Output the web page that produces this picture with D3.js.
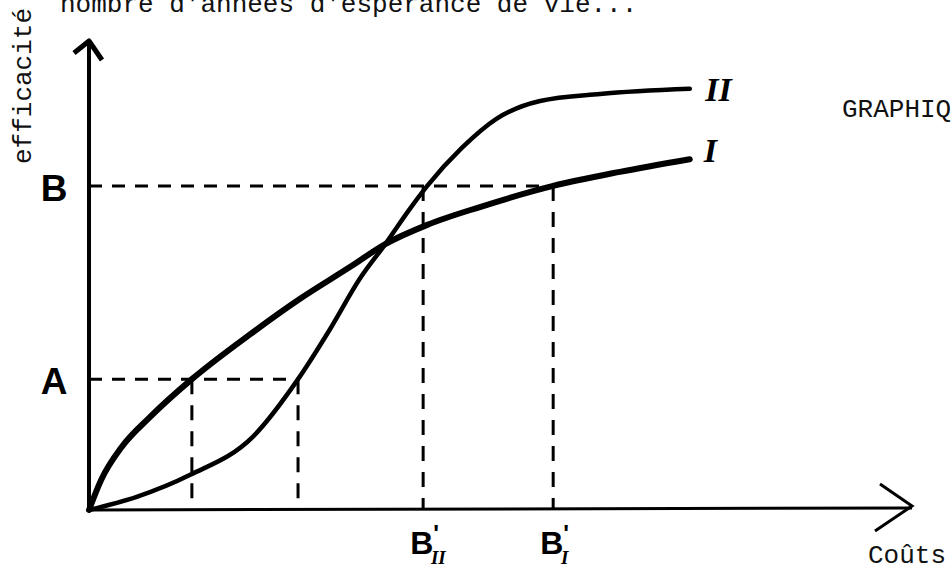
<!DOCTYPE html>
<html>
<head>
<meta charset="utf-8">
<script src="https://cdn.jsdelivr.net/npm/d3@7"></script>
<style>
body { margin:0; background:#fff; }
.tw { font-family:"Liberation Mono","Courier New",monospace; fill:#111; }
.hand { font-family:"Liberation Sans",Arial,sans-serif; font-weight:bold; fill:#000; }
.roman { font-family:"Liberation Serif",serif; font-style:italic; font-weight:bold; fill:#000; }
</style>
</head>
<body>
<div id="chart"></div>
<script>
// curve I : efficacite vs couts (concave)
var coutsI = [0, 1.5, 4.0, 7.4, 12.5, 19.6, 25.6, 31.7, 36.0, 41.1, 47.5, 56.4, 64.5, 73.0];
var effI   = [0, 6.5, 13.5, 19.8, 27.9, 37.5, 45.0, 51.8, 56.7, 60.8, 64.6, 69.1, 72.1, 74.8];
// curve II : S shaped
var coutsII = [0, 5.8, 12.3, 19.9, 25.4, 29.3, 32.9, 36.0, 38.9, 41.1, 45.3, 49.5, 54.8, 62.1, 73.0];
var effII   = [0, 2.8, 7.5, 15.6, 27.9, 38.6, 49.3, 56.7, 64.0, 69.1, 77.2, 83.4, 87.2, 88.7, 89.8];
// reading levels and the matching costs
var levels = [{name:"A", y:27.9, x:[12.5, 25.4]}, {name:"B", y:69.1, x:[40.6, 56.4]}];
var costLabels = [{x:40.6, sub:"II"}, {x:56.4, sub:"I"}];
var curveLabels = [{name:"II", x:76.5, y:89.5}, {name:"I", x:75.5, y:76.5}];

var W = 951, H = 568;
var svg = d3.select("#chart").append("svg").attr("width", W).attr("height", H);

var x = d3.scaleLinear().domain([0, 100]).range([89, 912]);
var y = d3.scaleLinear().domain([0, 100]).range([510, 41]);

// axes with arrow heads
svg.append("line")
  .attr("x1", x(0)).attr("y1", y(0))
  .attr("x2", x(0)).attr("y2", y(100))
  .attr("style", "stroke:#000;stroke-width:4");
svg.append("path")
  .attr("d", "M" + (x(0) - 15) + "," + (y(100) + 12) + "L" + x(0) + "," + y(100) + "L" + (x(0) + 13) + "," + (y(100) + 19))
  .attr("style", "fill:none;stroke:#000;stroke-width:5;stroke-linejoin:round");
svg.append("line")
  .attr("x1", x(0) - 2).attr("y1", y(0))
  .attr("x2", x(100)).attr("y2", y(0) - 2)
  .attr("style", "stroke:#000;stroke-width:3");
svg.append("path")
  .attr("d", "M" + (x(100) - 32) + "," + (y(0) - 26) + "L" + x(100) + "," + (y(0) - 4) + "L" + (x(100) - 37) + "," + (y(0) + 21))
  .attr("style", "fill:none;stroke:#000;stroke-width:3");

// dashed reading lines
levels.forEach(function(l) {
  var xmax = d3.max(l.x);
  svg.append("line")
    .attr("x1", x(0)).attr("y1", y(l.y))
    .attr("x2", x(xmax)).attr("y2", y(l.y))
    .attr("style", "stroke:#000;stroke-width:3;stroke-dasharray:13,10");
  l.x.forEach(function(v) {
    svg.append("line")
      .attr("x1", x(v)).attr("y1", y(l.y))
      .attr("x2", x(v)).attr("y2", y(0))
      .attr("style", "stroke:#000;stroke-width:3;stroke-dasharray:15,11");
  });
  svg.append("text")
    .attr("class", "hand")
    .attr("x", 54).attr("y", y(l.y) + 15)
    .attr("text-anchor", "middle")
    .attr("style", "font-size:37px")
    .text(l.name);
});

// the two curves
var line = d3.line().x(function(d) { return x(d[0]); }).y(function(d) { return y(d[1]); }).curve(d3.curveMonotoneX);
svg.append("path")
  .datum(d3.zip(coutsI, effI))
  .attr("d", line)
  .attr("style", "fill:none;stroke:#000;stroke-width:6;stroke-linecap:round");
svg.append("path")
  .datum(d3.zip(coutsII, effII))
  .attr("d", line)
  .attr("style", "fill:none;stroke:#000;stroke-width:4.5;stroke-linecap:round");

curveLabels.forEach(function(c) {
  svg.append("text")
    .attr("class", "roman")
    .attr("x", x(c.x)).attr("y", y(c.y) + 11)
    .attr("text-anchor", "middle")
    .attr("style", "font-size:34px")
    .text(c.name);
});

// B' labels under the cost axis
costLabels.forEach(function(c) {
  var t = svg.append("text")
    .attr("class", "hand")
    .attr("x", x(c.x) - 13).attr("y", y(0) + 44)
    .attr("style", "font-size:32px");
  t.append("tspan").text("B");
  t.append("tspan").attr("dy", -12).attr("style", "font-size:24px").text("'");
  t.append("tspan").attr("class", "roman").attr("dx", -8).attr("dy", 22).attr("style", "font-size:19px").text(c.sub);
});

// typewritten texts
svg.append("text")
  .attr("class", "tw")
  .attr("x", 60).attr("y", 12)
  .attr("style", "font-size:26px")
  .text("nombre d'années d'espérance de vie...");
svg.append("text")
  .attr("class", "tw")
  .attr("transform", "translate(31,8) rotate(-90)")
  .attr("text-anchor", "end")
  .attr("style", "font-size:26px")
  .text("efficacité");
svg.append("text")
  .attr("class", "tw")
  .attr("x", 842).attr("y", 117)
  .attr("style", "font-size:26px")
  .text("GRAPHIQUE");
svg.append("text")
  .attr("class", "tw")
  .attr("x", 868).attr("y", 563)
  .attr("style", "font-size:26px")
  .text("Coûts");
</script>
</body>
</html>
